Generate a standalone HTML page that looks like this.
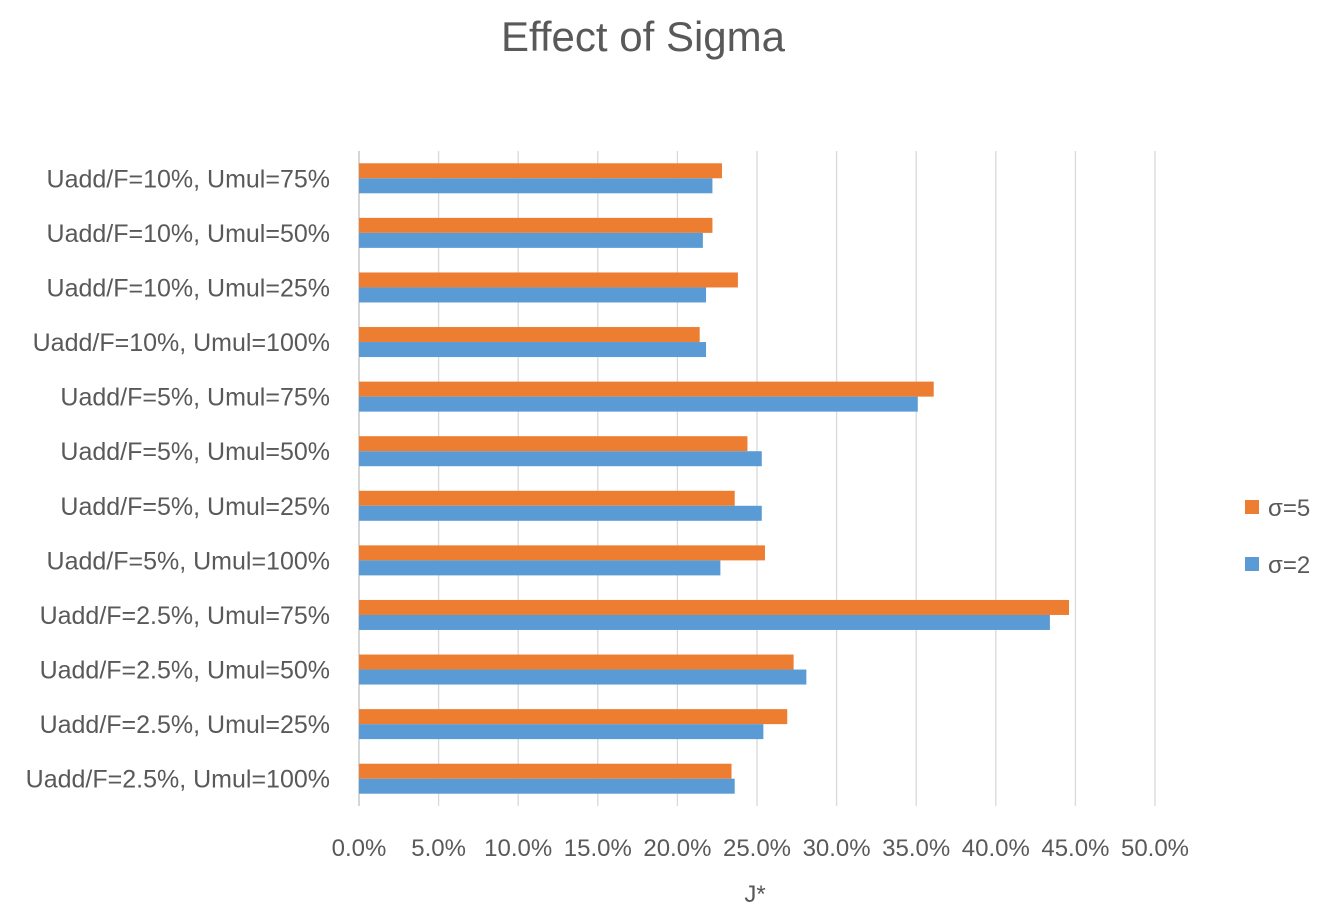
<!DOCTYPE html>
<html><head><meta charset="utf-8"><style>
body{margin:0;background:#fff;}
svg text{font-family:"Liberation Sans",sans-serif;fill:#595959;}
</style></head><body>
<svg id="chart" width="1327" height="919" xmlns="http://www.w3.org/2000/svg">
<text x="643" y="51" font-size="42" text-anchor="middle">Effect of Sigma</text>
<g id="grid"></g><g id="bars"></g><g id="ylabels"></g><g id="xlabels"></g>
<text x="755" y="902" font-size="24" text-anchor="middle">J*</text>
<g>
<rect x="1245" y="500" width="14" height="14" fill="#ED7D31"/>
<text x="1268" y="516" font-size="24">σ=5</text>
<rect x="1245" y="557" width="14" height="14" fill="#5B9BD5"/>
<text x="1268" y="573" font-size="24">σ=2</text>
</g>
</svg>
<script>
const categories=["Uadd/F=10%, Umul=75%","Uadd/F=10%, Umul=50%","Uadd/F=10%, Umul=25%","Uadd/F=10%, Umul=100%","Uadd/F=5%, Umul=75%","Uadd/F=5%, Umul=50%","Uadd/F=5%, Umul=25%","Uadd/F=5%, Umul=100%","Uadd/F=2.5%, Umul=75%","Uadd/F=2.5%, Umul=50%","Uadd/F=2.5%, Umul=25%","Uadd/F=2.5%, Umul=100%"];
const sigma5=[22.8,22.2,23.8,21.4,36.1,24.4,23.6,25.5,44.6,27.3,26.9,23.4];
const sigma2=[22.2,21.6,21.8,21.8,35.1,25.3,25.3,22.7,43.4,28.1,25.4,23.6];
const ticks=[0,5,10,15,20,25,30,35,40,45,50];
const NS="http://www.w3.org/2000/svg";
const x0=359,x1=1155,plotTop=151,plotBottom=806,xmax=50;
const xs=v=>x0+(v/xmax)*(x1-x0);
const band=(plotBottom-plotTop)/categories.length;
function mk(t,a,p){const e=document.createElementNS(NS,t);for(const k in a)e.setAttribute(k,a[k]);document.getElementById(p).appendChild(e);return e;}
ticks.forEach(t=>{
 const l=mk('line',{x1:xs(t),x2:xs(t),y1:plotTop,y2:plotBottom,stroke:t===0?'#bfbfbf':'#d9d9d9','stroke-width':1.3},'grid');
 
 
 const tx=mk('text',{x:xs(t),y:856,'font-size':24,'text-anchor':'middle'},'xlabels');
 tx.textContent=t.toFixed(1)+'%';
 
 
});
categories.forEach((c,i)=>{
 const cy=plotTop+band*(i+0.5);
 const o=mk('rect',{x:x0,y:cy-15,width:xs(sigma5[i])-x0,height:15,fill:'#ED7D31'},'bars');
 
 
 const b=mk('rect',{x:x0,y:cy,width:xs(sigma2[i])-x0,height:15,fill:'#5B9BD5'},'bars');
 
 
 const t=mk('text',{x:330,y:cy+9,'font-size':25,'text-anchor':'end'},'ylabels');
 t.textContent=c;
 
 
});
</script>
</body></html>
